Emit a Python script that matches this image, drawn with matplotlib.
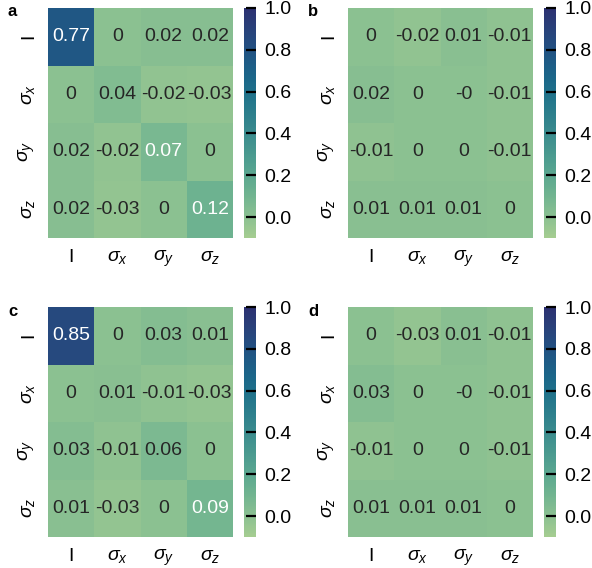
import matplotlib
matplotlib.use('Agg')
import matplotlib.pyplot as plt
import numpy as np
import seaborn as sns

plt.rcParams['font.family'] = ['Liberation Sans', 'DejaVu Sans']
plt.rcParams['mathtext.fontset'] = 'custom'
plt.rcParams['mathtext.it'] = 'Liberation Sans:italic'
plt.rcParams['mathtext.rm'] = 'Liberation Sans'

labels = ['I', r'$\sigma_x$', r'$\sigma_y$', r'$\sigma_z$']

mat_a = [[0.77, 0.00, 0.02, 0.02],
         [0.00, 0.04, -0.02, -0.03],
         [0.02, -0.02, 0.07, 0.00],
         [0.02, -0.03, 0.00, 0.12]]
mat_b = [[0.00, -0.02, 0.01, -0.01],
         [0.02, 0.00, -0.0, -0.01],
         [-0.01, 0.00, 0.00, -0.01],
         [0.01, 0.01, 0.01, 0.00]]
mat_c = [[0.85, 0.00, 0.03, 0.01],
         [0.00, 0.01, -0.01, -0.03],
         [0.03, -0.01, 0.06, 0.00],
         [0.01, -0.03, 0.00, 0.09]]
mat_d = [[0.00, -0.03, 0.01, -0.01],
         [0.03, 0.00, -0.0, -0.01],
         [-0.01, 0.00, 0.00, -0.01],
         [0.01, 0.01, 0.01, 0.00]]
panels = ['a', 'b', 'c', 'd']
mats = [mat_a, mat_b, mat_c, mat_d]

W, H = 592, 568
fig = plt.figure(figsize=(W/100, H/100), dpi=100)

# pixel boxes (left, top) of each heatmap
boxes = [(48, 8), (348, 8), (48, 307), (348, 307)]
hw, hh = 185, 230

for lab, m, (x0, y0) in zip(panels, mats, boxes):
    ax = fig.add_axes([x0/W, (H-y0-hh)/H, hw/W, hh/H])
    cax = fig.add_axes([(x0+196)/W, (H-y0-hh)/H, 12/W, hh/H])
    sns.heatmap(np.array(m), ax=ax, cbar_ax=cax, cmap='crest', vmin=-0.1, vmax=1.0,
                annot=True, fmt='g', annot_kws={'fontsize': 14},
                xticklabels=labels, yticklabels=labels)
    ax.tick_params(length=0, labelsize=14, pad=8)
    ax.set_yticklabels(labels, rotation=90, va='center')
    ax.set_xticklabels(labels, rotation=0)
    cax.tick_params(direction='in', length=7, width=1.6, labelsize=14, pad=6)
    cax.set_yticks([0.0, 0.2, 0.4, 0.6, 0.8, 1.0])
    for s in cax.spines.values():
        s.set_visible(False)
    fig.text((x0-40)/W, (H-y0-4)/H, lab, fontsize=12, fontweight='bold', va='center')

plt.savefig('out.png', dpi=100)
